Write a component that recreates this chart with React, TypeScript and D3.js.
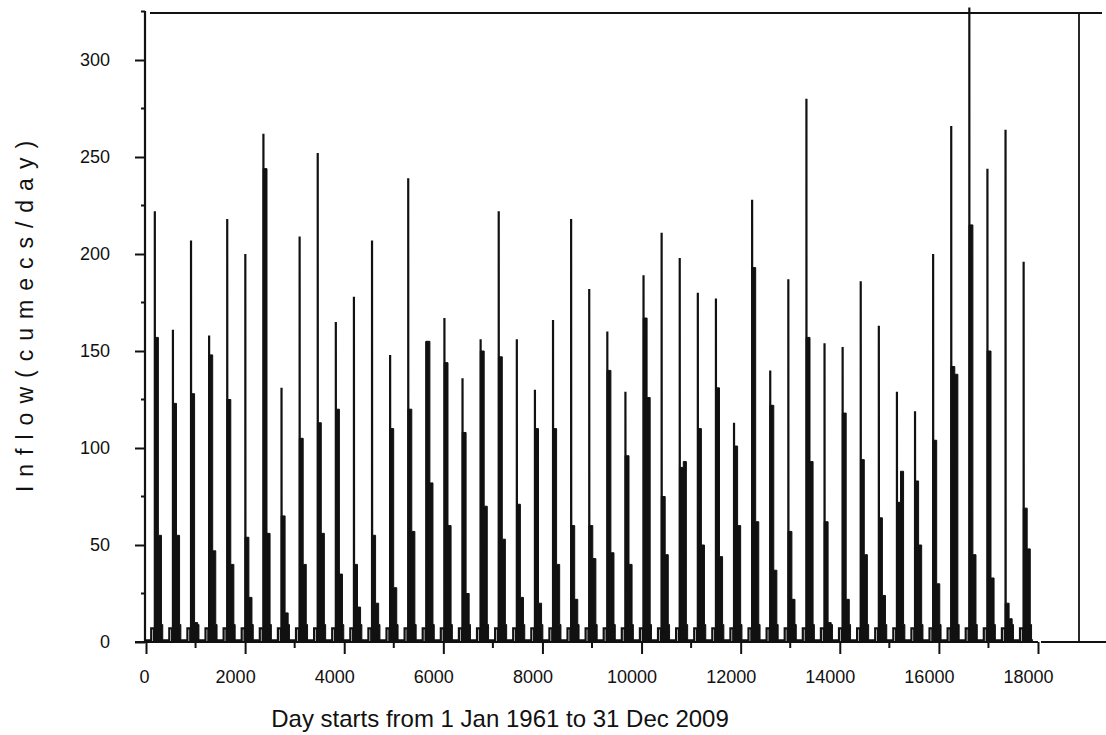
import React, { useEffect, useRef } from 'react'
import * as d3 from 'd3'

// one entry per water year, 1961 .. 2009
const peakFlow = [222, 161, 207, 158, 218, 200, 262, 131, 209, 252,
  165, 178, 207, 148, 239, 155, 167, 136, 156, 222,
  156, 130, 166, 218, 182, 160, 129, 189, 211, 198,
  180, 177, 113, 228, 140, 187, 280, 154, 152, 186,
  163, 129, 119, 200, 266, 327, 244, 264, 196]
const plateauFlow = [157, 123, 128, 148, 125, 54, 244, 65, 105, 113,
  120, 40, 55, 110, 120, 155, 144, 108, 150, 147,
  71, 110, 110, 60, 60, 140, 96, 167, 75, 90,
  110, 131, 101, 193, 122, 57, 157, 62, 118, 94,
  64, 72, 83, 104, 142, 215, 150, 20, 69]
const midFlow = [55, 55, 10, 47, 40, 23, 56, 15, 40, 56,
  35, 18, 20, 28, 57, 82, 60, 25, 70, 53,
  23, 20, 40, 22, 43, 46, 40, 126, 45, 93,
  50, 44, 60, 62, 37, 22, 93, 10, 22, 45,
  24, 88, 50, 30, 138, 45, 33, 12, 48]
const preMonsoonFlow = 7
const recessionFlow = 9
const baseFlow = 0.8

const xTicks = [0, 2000, 4000, 6000, 8000, 10000, 12000, 14000, 16000, 18000]
const xMinor = [1000, 3000, 5000, 7000, 9000, 11000, 13000, 15000, 17000]
const yTicks = [0, 50, 100, 150, 200, 250, 300]
const yMinor = [25, 75, 125, 175, 225, 275, 325]

// days within a year where the hydrograph changes
const DAYS_PER_YEAR = 365.25
const preStart = 105, preEnd = 162, peakDay = 178, riseDay = 172
const plateauEnd = 250, midEnd = 312, tailEnd = 338

const W = 1106, H = 735

export default function App() {
  const ref = useRef<SVGSVGElement>(null)

  useEffect(() => {
    const svg = d3.select(ref.current)
    svg.selectAll('*').remove()
    const ink = '#111'
    const font = 'Liberation Sans, Arial, sans-serif'

    const x = d3.scaleLinear().domain([0, 18000]).range([146, 1038])
    const y = d3.scaleLinear().domain([0, 325]).range([642, 11.5])

    // frame bits of the original plot
    svg.append('line').attr('x1', 150).attr('x2', 1102).attr('y1', 13).attr('y2', 13)
      .attr('stroke', ink).attr('stroke-width', 2)
    svg.append('line').attr('x1', 1079).attr('x2', 1079).attr('y1', 13).attr('y2', 642)
      .attr('stroke', ink).attr('stroke-width', 1.8)
    svg.append('line').attr('x1', 1041).attr('x2', 1106).attr('y1', 642).attr('y2', 642)
      .attr('stroke', ink).attr('stroke-width', 2)

    // hydrograph
    const g = svg.append('g')
    const area = d3.area<[number, number]>()
      .x(d => x(d[0])).y0(y(0)).y1(d => y(d[1]))
      .curve(d3.curveStepAfter)
    const line = d3.line<[number, number]>().x(d => x(d[0])).y(d => y(d[1]))

    const pts: [number, number][] = []
    peakFlow.forEach((pk, i) => {
      const s = i * DAYS_PER_YEAR
      const band: [number, number][] = [
        [s + riseDay, plateauFlow[i]],
        [s + plateauEnd, midFlow[i]],
        [s + midEnd, recessionFlow],
        [s + tailEnd, recessionFlow],
      ]
      g.append('path').attr('d', area(band)).attr('fill', ink)
        .attr('stroke', ink).attr('stroke-width', 1)
      pts.push([s, baseFlow], [s + preStart, baseFlow], [s + preStart, preMonsoonFlow],
        [s + preEnd, preMonsoonFlow], [s + preEnd, baseFlow],
        [s + peakDay, baseFlow], [s + peakDay, pk], [s + peakDay + 3, baseFlow],
        [s + tailEnd, baseFlow])
    })
    pts.push([peakFlow.length * DAYS_PER_YEAR, baseFlow])
    g.append('path').attr('d', line(pts)).attr('fill', 'none')
      .attr('stroke', ink).attr('stroke-width', 2.2).attr('stroke-linejoin', 'miter')

    // y axis
    const ya = svg.append('g').attr('transform', `translate(${x(0) - 1},0)`)
      .call(d3.axisLeft(y).tickValues(yTicks).tickSize(10).tickPadding(25))
    ya.select('.domain').remove()
    ya.selectAll('line').attr('stroke', ink).attr('stroke-width', 2)
    ya.selectAll('text').attr('font-size', 18).attr('font-family', font).attr('fill', ink)
    ya.append('line').attr('x1', 0).attr('x2', 0).attr('y1', 11).attr('y2', 643)
      .attr('stroke', ink).attr('stroke-width', 2.2)
    ya.selectAll('.minor').data(yMinor).enter().append('line').attr('class', 'minor')
      .attr('x1', -4).attr('x2', 0).attr('y1', d => y(d)).attr('y2', d => y(d))
      .attr('stroke', ink).attr('stroke-width', 2)

    // x axis
    const xa = svg.append('g').attr('transform', `translate(0,${y(0)})`)
      .call(d3.axisBottom(x).tickValues(xTicks).tickSize(12).tickPadding(16).tickFormat(d3.format('d')))
    xa.select('.domain').remove()
    xa.selectAll('line').attr('stroke', ink).attr('stroke-width', 2)
    xa.selectAll('text').attr('font-size', 18).attr('font-family', font).attr('fill', ink)
      .attr('dx', (d: any) => (d === 0 ? -2 : -10))
    xa.append('line').attr('x1', x(0) - 11).attr('x2', x(18000)).attr('y1', 0).attr('y2', 0)
      .attr('stroke', ink).attr('stroke-width', 2.2)
    xa.selectAll('.minor').data(xMinor).enter().append('line').attr('class', 'minor')
      .attr('x1', d => x(d)).attr('x2', d => x(d)).attr('y1', 0).attr('y2', 6)
      .attr('stroke', ink).attr('stroke-width', 2)

    // titles
    svg.append('text').attr('x', 500).attr('y', 727).attr('text-anchor', 'middle')
      .attr('font-family', font).attr('font-size', 24).attr('fill', ink)
      .text('Day starts from 1 Jan 1961 to 31 Dec 2009')
    svg.append('text').attr('transform', 'translate(33,312) rotate(-90)')
      .attr('text-anchor', 'middle').attr('font-family', font).attr('font-size', 23)
      .attr('letter-spacing', 9).attr('fill', ink)
      .text('Inflow(cumecs/day)')
  }, [])

  return (
    <svg ref={ref} width={W} height={H}
      style={{ position: 'absolute', left: 0, top: 0, background: '#fff' }} />
  )
}
